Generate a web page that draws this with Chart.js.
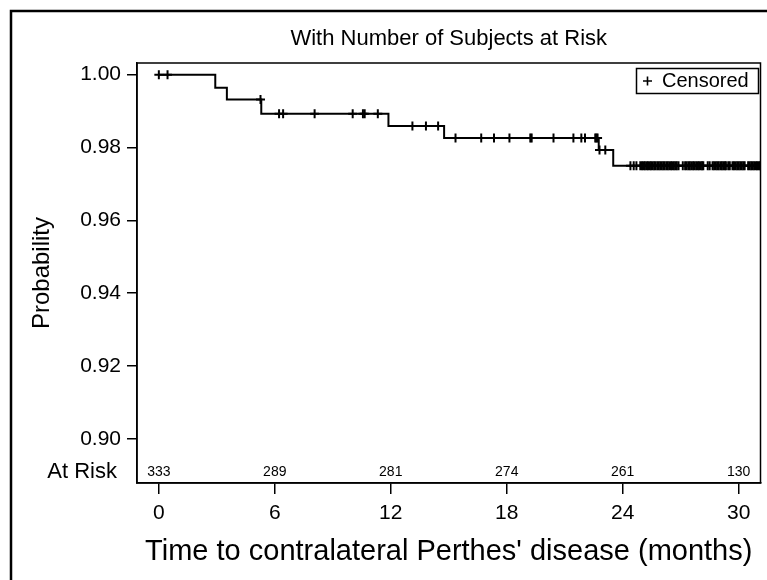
<!DOCTYPE html>
<html>
<head>
<meta charset="utf-8">
<script src="https://cdn.jsdelivr.net/npm/chart.js@4.4.1/dist/chart.umd.min.js"></script>
<style>
html, body { margin: 0; padding: 0; background: #fff; }
#wrap { width: 767px; height: 580px; }
</style>
</head>
<body>
<div id="wrap"><canvas id="kmChart" width="767" height="580"></canvas></div>
<script>
// Kaplan-Meier steps (time in months, survival probability)
var stepTimes = [0, 2.92, 3.52, 5.30, 11.88, 14.76, 22.76, 23.51, 31.13];
var stepSurv  = [1.0, 0.9964, 0.9932, 0.9893, 0.9859, 0.9826, 0.9793, 0.9750, 0.9750];

// censored observations (months)
var censorTimes = [
    0.0, 0.45,
    5.26,
    6.22, 6.43, 8.06, 10.03, 10.56, 10.65, 11.33,
    13.12, 13.82, 14.45,
    15.35, 16.68, 17.34, 18.14, 19.22, 19.29, 20.42, 21.45, 21.86, 22.05, 22.58, 22.64, 22.70,
    22.80, 23.10,
    24.40, 24.57, 24.71,
    24.91, 25.00, 25.08, 25.15, 25.24, 25.31, 25.40, 25.47, 25.55, 25.63, 25.70, 25.79, 25.86,
    25.94, 26.02, 26.10, 26.17, 26.26, 26.33, 26.41, 26.50, 26.57, 26.65, 26.73, 26.80, 26.89,
    27.11,
    27.23, 27.31, 27.40, 27.47, 27.55, 27.64, 27.71, 27.80, 27.88, 27.95, 28.04, 28.11, 28.17,
    28.40, 28.50,
    28.65, 28.73, 28.82, 28.90, 28.97, 29.06, 29.13, 29.21, 29.28, 29.34,
    29.46, 29.54,
    29.68, 29.76, 29.85, 29.93, 30.00, 30.08, 30.16, 30.24, 30.31,
    30.49, 30.57, 30.65, 30.72, 30.80, 30.88, 30.95, 31.03, 31.09
];

var riskTimes  = [0, 6, 12, 18, 24, 30];
var riskCounts = [333, 289, 281, 274, 261, 130];

var xTicks = [0, 6, 12, 18, 24, 30];
var yTicks = [0.90, 0.92, 0.94, 0.96, 0.98, 1.00];

var FONT = "'Liberation Sans', Arial, sans-serif";

function survAt(t) {
    var s = stepSurv[0];
    for (var i = 0; i < stepTimes.length; i++) {
        if (stepTimes[i] <= t) s = stepSurv[i];
    }
    return s;
}

var kmPoints = stepTimes.map(function (t, i) { return { x: t, y: stepSurv[i] }; });
var censorPoints = censorTimes.map(function (t) { return { x: t, y: survAt(t) }; });

var kmDecor = {
    id: 'kmDecor',
    afterDraw: function (chart) {
        var c = chart.ctx;
        var a = chart.chartArea;
        var xs = chart.scales.x;
        c.save();
        // outer frame
        c.strokeStyle = '#000';
        c.lineWidth = 2.5;
        c.beginPath();
        c.moveTo(11, 580);
        c.lineTo(11, 11);
        c.lineTo(767, 11);
        c.stroke();
        // plot frame
        c.lineWidth = 1.5;
        c.strokeRect(a.left, a.top, a.right - a.left, a.bottom - a.top);
        // title
        c.fillStyle = '#000';
        c.font = '22px ' + FONT;
        c.textAlign = 'center';
        c.textBaseline = 'alphabetic';
        c.fillText('With Number of Subjects at Risk', (a.left + a.right) / 2, 45);
        // at risk row
        c.font = '14px ' + FONT;
        for (var i = 0; i < riskTimes.length; i++) {
            c.fillText(String(riskCounts[i]), xs.getPixelForValue(riskTimes[i]), a.bottom - 7);
        }
        c.font = '22px ' + FONT;
        c.textAlign = 'right';
        c.fillText('At Risk', a.left - 20, a.bottom - 5);
        // legend
        c.lineWidth = 1.5;
        c.strokeRect(636.5, 68.5, 122, 25);
        c.lineWidth = 1.6;
        c.beginPath();
        c.moveTo(643, 81); c.lineTo(652, 81);
        c.moveTo(647.5, 76.5); c.lineTo(647.5, 85.5);
        c.stroke();
        c.textAlign = 'left';
        c.textBaseline = 'middle';
        c.font = '20px ' + FONT;
        c.fillText('Censored', 662, 81);
        c.restore();
    }
};

var ctx = document.getElementById('kmChart').getContext('2d');
var myChart = new Chart(ctx, {
    type: 'scatter',
    data: {
        datasets: [{
            label: 'Survival',
            data: kmPoints,
            showLine: true,
            stepped: 'before',
            borderColor: '#000',
            borderWidth: 2,
            pointRadius: 0,
            fill: false,
            order: 2
        }, {
            label: 'Censored',
            data: censorPoints,
            showLine: false,
            pointStyle: 'cross',
            pointRadius: 4.5,
            pointBorderWidth: 2,
            borderColor: '#000',
            backgroundColor: '#000',
            order: 1
        }]
    },
    options: {
        responsive: false,
        animation: false,
        layout: { padding: { top: 63, right: 4, bottom: 0, left: 0 } },
        plugins: {
            legend: { display: false },
            tooltip: { enabled: false },
            title: { display: false }
        },
        scales: {
            x: {
                type: 'linear',
                min: -1.13,
                max: 31.13,
                afterBuildTicks: function (axis) {
                    axis.ticks = xTicks.map(function (v) { return { value: v }; });
                },
                afterFit: function (axis) { axis.height = 97; },
                grid: { drawOnChartArea: false, drawTicks: true, tickLength: 11, color: '#000', lineWidth: 1.5 },
                border: { display: true, color: '#000', width: 1.5 },
                ticks: {
                    color: '#000',
                    padding: 7,
                    maxRotation: 0,
                    font: { family: FONT, size: 21 },
                    callback: function (v) { return String(v); }
                },
                title: {
                    display: true,
                    text: "Time to contralateral Perthes' disease (months)",
                    color: '#000',
                    font: { family: FONT, size: 29 },
                    padding: { top: 0, bottom: 11 }
                }
            },
            y: {
                type: 'linear',
                min: 0.8879,
                max: 1.0032,
                afterBuildTicks: function (axis) {
                    axis.ticks = yTicks.map(function (v) { return { value: v }; });
                },
                afterFit: function (axis) { axis.width = 137; },
                grid: { drawOnChartArea: false, drawTicks: true, tickLength: 10, color: '#000', lineWidth: 1.5 },
                border: { display: true, color: '#000', width: 1.5 },
                ticks: {
                    color: '#000',
                    padding: 6,
                    font: { family: FONT, size: 21 },
                    callback: function (v) { return Number(v).toFixed(2); }
                },
                title: {
                    display: true,
                    text: 'Probability',
                    color: '#000',
                    font: { family: FONT, size: 24 },
                    padding: { top: 28, bottom: 0 }
                }
            }
        }
    },
    plugins: [kmDecor]
});
</script>
</body>
</html>
